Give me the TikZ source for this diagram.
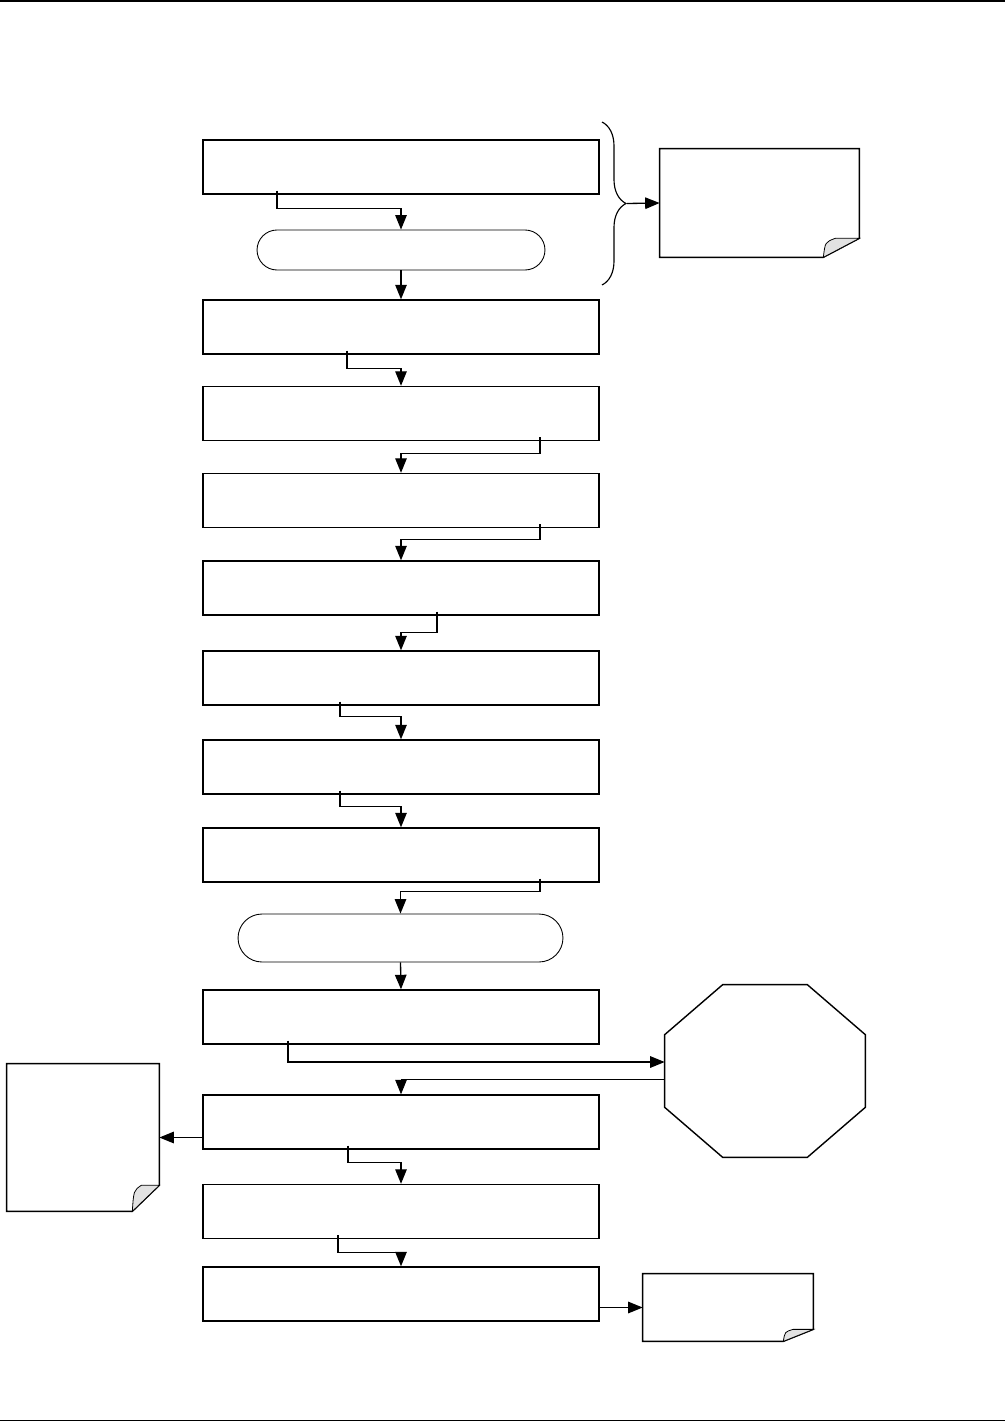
\documentclass[tikz,border=0pt]{standalone}
\usepackage{tikz}
\usetikzlibrary{arrows.meta, positioning, calc, shapes.misc, decorations.pathreplacing}
\definecolor{foldgrey}{HTML}{E2E2E2}

% sheet outline with a turned-up corner: node, fold width, fold height (px)
\newcommand{\dogear}[3]{%
  \draw[outline] (#1.north west) -- (#1.north east) -- ($(#1.south east)+(0,-#3)$)
    -- ($(#1.south east)+(-#2,0)$) -- (#1.south west) -- cycle;
  \filldraw[fill=foldgrey, line width=0.45pt] ($(#1.south east)+(-#2,0)$)
    .. controls ($(#1.south east)+(-0.95*#2,-0.8*#3)$) .. ($(#1.south east)+(-0.67*#2,-#3)$)
    -- ($(#1.south east)+(0,-#3)$) -- cycle;}

\begin{document}
\begin{tikzpicture}[x=0.02cm, y=-0.02cm,
    stepbox/.style={draw, line width=0.8pt, minimum width=7.92cm, minimum height=1.08cm, inner sep=0pt},
    pill/.style={draw, rounded rectangle, line width=0.5pt, inner sep=0pt},
    sheet/.style={inner sep=0pt},
    outline/.style={line width=0.8pt},
    flow/.style={line width=0.75pt, -{Triangle[length=2.9mm, width=2.3mm]}},
    back/.style={line width=0.45pt, -{Triangle[length=2.9mm, width=2.3mm]}}]
  \useasboundingbox (0,0) rectangle (1005,1422);
  \draw[line width=1.1pt] (0,1) -- (1005,1);
  \draw[line width=1.1pt] (0,1420.5) -- (1005,1420.5);

  % main column
  \foreach \n/\y in {box1/167, box2/327, box3/413.5, box4/500.5, box5/588, box6/678,
      box7/767, box8/855, box9/1017, box10/1122, box11/1211.5, box12/1294}{%
    \node[stepbox] (\n) at (401,\y) {};}
  \node[pill, minimum width=5.76cm, minimum height=0.8cm] (term1) at (401,250) {};
  \node[pill, minimum width=6.5cm, minimum height=0.96cm] (term2) at (400.5,938) {};

  % side sheets
  \node[sheet, minimum width=3.98cm, minimum height=2.16cm] (notetop) at (759.5,203) {};
  \node[sheet, minimum width=3.04cm, minimum height=2.94cm] (noteleft) at (83,1137.5) {};
  \node[sheet, minimum width=3.4cm, minimum height=1.34cm] (notebottom) at (728,1307.5) {};
  \dogear{notetop}{36}{19}
  \dogear{noteleft}{27}{26}
  \dogear{notebottom}{30}{12}

  % octagon
  \node[sheet, minimum width=4cm, minimum height=3.44cm] (halt) at (765,1071) {};
  \draw[outline] ($(halt.north west)+(58,0)$) -- ($(halt.north east)+(-58,0)$)
    -- ($(halt.north east)+(0,50)$) -- ($(halt.south east)+(0,-50)$)
    -- ($(halt.south east)+(-58,0)$) -- ($(halt.south west)+(58,0)$)
    -- ($(halt.south west)+(0,-50)$) -- ($(halt.north west)+(0,50)$) -- cycle;

  % brace over the first steps
  \draw[line width=0.65pt, decorate, decoration={brace, amplitude=0.48cm}] (602,122) -- (602,285);
  \coordinate (bracetip) at (627,203.5);
  \draw[flow] (bracetip) -- (notetop.west);

  % connectors
  \foreach \a/\b/\dx/\dy in {box1/term1/-124/14, box2/box3/-54/14, box3/box4/139/12,
      box4/box5/139/11, box5/box6/36/17, box6/box7/-61/11, box7/box8/-61/12,
      box8/term2/139/9, box10/box11/-53/13, box11/box12/-63/13}{%
    \draw[flow] ($(\a.south)+(\dx,-4)$) -- ++(0,\dy+4) -| (\b.north);}
  \draw[flow] (term1.south) -- (box2.north);
  \draw[flow] (term2.south) -- (box9.north);
  \draw[flow] ($(box9.south)+(-113,-4)$) |- ($(halt.west)+(0,-9)$);
  \draw[back] ($(halt.west)+(0,8)$) -| (box10.north);
  \draw[flow] (box10.west |- noteleft.east) -- (noteleft.east);
  \draw[flow] (box12.east |- notebottom.west) -- (notebottom.west);
\end{tikzpicture}
\end{document}
